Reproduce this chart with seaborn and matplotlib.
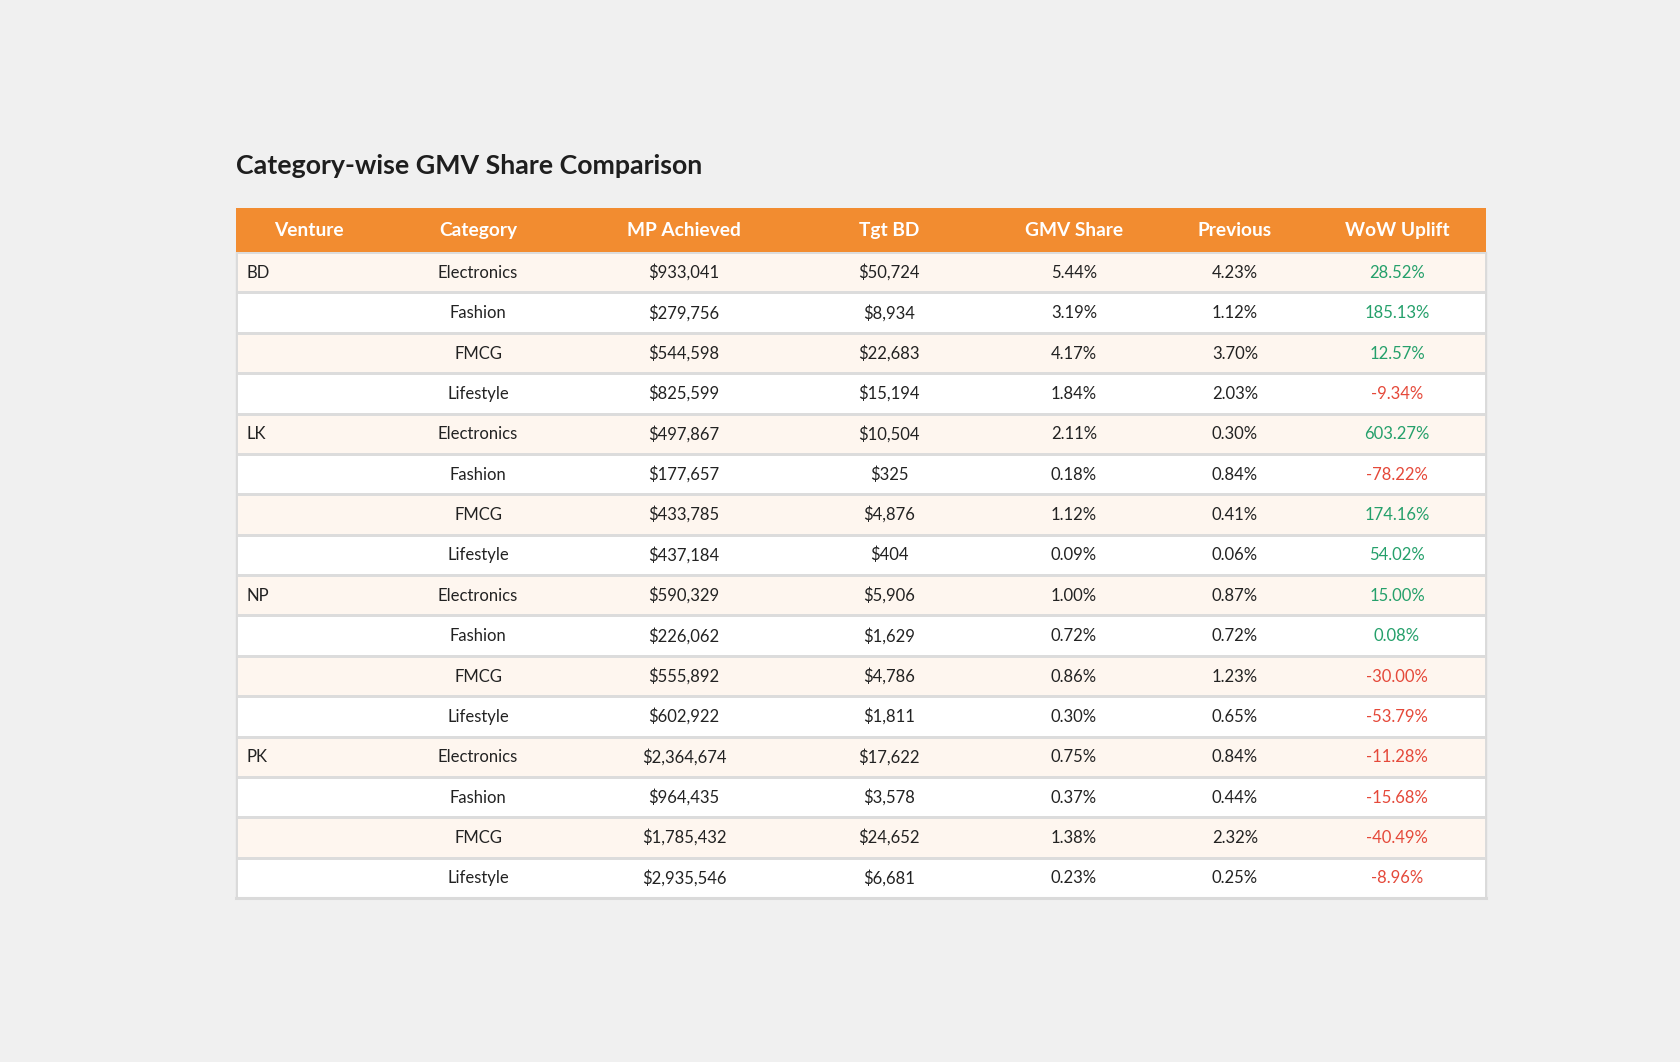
import numpy as np
import pandas as pd
import matplotlib
matplotlib.use('Agg')
import matplotlib.pyplot as plt
from matplotlib.colors import ListedColormap
import seaborn as sns

# table data
columns = ['Venture', 'Category', 'MP Achieved', 'Tgt BD', 'GMV Share', 'Previous', 'WoW Uplift']
ventures = ['BD', 'LK', 'NP', 'PK']
categories = ['Electronics', 'Fashion', 'FMCG', 'Lifestyle']
mp_achieved = [933041, 279756, 544598, 825599,
               497867, 177657, 433785, 437184,
               590329, 226062, 555892, 602922,
               2364674, 964435, 1785432, 2935546]
tgt_bd = [50724, 8934, 22683, 15194,
          10504, 325, 4876, 404,
          5906, 1629, 4786, 1811,
          17622, 3578, 24652, 6681]
gmv_share = [5.44, 3.19, 4.17, 1.84,
             2.11, 0.18, 1.12, 0.09,
             1.00, 0.72, 0.86, 0.30,
             0.75, 0.37, 1.38, 0.23]
previous = [4.23, 1.12, 3.70, 2.03,
            0.30, 0.84, 0.41, 0.06,
            0.87, 0.72, 1.23, 0.65,
            0.84, 0.44, 2.32, 0.25]
wow_uplift = [28.52, 185.13, 12.57, -9.34,
              603.27, -78.22, 174.16, 54.02,
              15.00, 0.08, -30.00, -53.79,
              -11.28, -15.68, -40.49, -8.96]

rows = []
for i in range(len(mp_achieved)):
    rows.append({
        'Venture': ventures[i // 4] if i % 4 == 0 else '',
        'Category': categories[i % 4],
        'MP Achieved': f'${mp_achieved[i]:,}',
        'Tgt BD': f'${tgt_bd[i]:,}',
        'GMV Share': f'{gmv_share[i]:.2f}%',
        'Previous': f'{previous[i]:.2f}%',
        'WoW Uplift': f'{wow_uplift[i]:.2f}%',
    })
df = pd.DataFrame(rows)

# layout (pixels)
W, H = 1680, 1062
left, right = 236, 1486
head_top, head_bot, body_bot = 208, 252, 898
col_centers = [309, 478, 684, 889, 1074, 1235, 1397]
venture_x = 246

bg = '#F0F0F0'
orange = '#F28C30'
cream = '#FEF6EF'
green = '#25A06B'
red = '#E5493A'
text_c = '#222222'

sns.set_theme(style='white')
plt.rcParams['font.family'] = ['Lato', 'DejaVu Sans']

fig = plt.figure(figsize=(W / 100, H / 100), dpi=100)
fig.patch.set_facecolor(bg)

tw = right - left
fx = lambda px: (px - left) / tw

# body
ax = fig.add_axes([left / W, (H - body_bot) / H, tw / W, (body_bot - head_bot) / H])
band = np.array([[i % 2] for i in range(len(df))])
sns.heatmap(band, ax=ax, cmap=ListedColormap([cream, 'white']), cbar=False,
            linewidths=0.8, linecolor='#DCDCDC', xticklabels=False, yticklabels=False)
for i, r in df.iterrows():
    y = i + 0.64
    ax.text(fx(venture_x), y, r['Venture'], ha='left', va='baseline', fontsize=12, color=text_c)
    for j, c in enumerate(columns[1:], start=1):
        col = text_c
        if c == 'WoW Uplift':
            col = green if wow_uplift[i] >= 0 else red
        ax.text(fx(col_centers[j]), y, r[c], ha='center', va='baseline', fontsize=12, color=col)
for s in ['left', 'right', 'bottom']:
    ax.spines[s].set_visible(True)
    ax.spines[s].set_color('#DADADA')
    ax.spines[s].set_linewidth(1)
ax.spines['bottom'].set_linewidth(2.2)

# header
hx = fig.add_axes([left / W, (H - head_bot) / H, tw / W, (head_bot - head_top) / H])
hx.set_facecolor(orange)
hx.set_xlim(0, 1)
hx.set_ylim(0, 1)
hx.set_xticks([])
hx.set_yticks([])
for s in hx.spines.values():
    s.set_visible(False)
for j, c in enumerate(columns):
    hx.text(fx(col_centers[j]), 0.37, c, ha='center', va='baseline', fontsize=13.8,
            fontweight='bold', color='white')

fig.text(left / W, 1 - 174.5 / H, 'Category-wise GMV Share Comparison', ha='left', va='baseline',
         fontsize=19.3, fontweight='bold', color='#1E1E1E')

fig.savefig('out.png', dpi=100, facecolor=bg)
